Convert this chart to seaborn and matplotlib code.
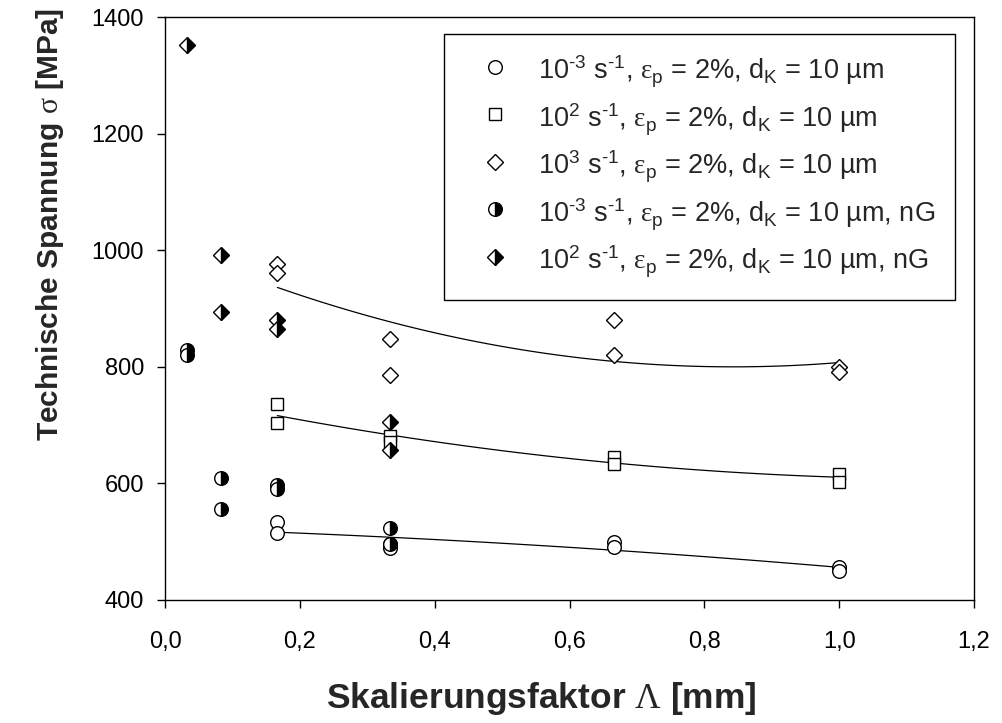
import matplotlib
matplotlib.use("Agg")
import matplotlib.pyplot as plt
import seaborn as sns
from matplotlib import font_manager
from matplotlib.ticker import FixedLocator, FuncFormatter

# Scaling factor Lambda [mm] and engineering stress at 2 % plastic strain [MPa]
lam_1e3 = [1/6, 1/6, 1/3, 1/3, 2/3, 2/3, 1.0, 1.0]
sig_1e3 = [534, 515, 496, 489, 500, 491, 456, 450]

lam_1e2 = [1/6, 1/6, 1/3, 1/3, 2/3, 2/3, 1.0, 1.0]
sig_1e2 = [736, 704, 682, 672, 645, 634, 616, 603]

lam_1e3f = [1/6, 1/6, 1/3, 1/3, 2/3, 2/3, 1.0, 1.0]
sig_1e3f = [976, 962, 848, 786, 880, 820, 800, 791]

lam_1e3_ng = [1/30, 1/30, 1/12, 1/12, 1/6, 1/6, 1/3, 1/3]
sig_1e3_ng = [830, 821, 609, 556, 598, 590, 524, 496]

lam_1e2_ng = [1/30, 1/12, 1/12, 1/6, 1/6, 1/3, 1/3]
sig_1e2_ng = [1352, 993, 895, 880, 866, 705, 658]

HY = "\u2010"
labels = [
    rf"$10^{{{HY}3}}$ s$^{{{HY}1}}$, $\mathcal{{\varepsilon}}_\mathrm{{p}}$ = 2%, d$_\mathrm{{K}}$ = 10 µm",
    rf"$10^{{2}}$ s$^{{{HY}1}}$, $\mathcal{{\varepsilon}}_\mathrm{{p}}$ = 2%, d$_\mathrm{{K}}$ = 10 µm",
    rf"$10^{{3}}$ s$^{{{HY}1}}$, $\mathcal{{\varepsilon}}_\mathrm{{p}}$ = 2%, d$_\mathrm{{K}}$ = 10 µm",
    rf"$10^{{{HY}3}}$ s$^{{{HY}1}}$, $\mathcal{{\varepsilon}}_\mathrm{{p}}$ = 2%, d$_\mathrm{{K}}$ = 10 µm, nG",
    rf"$10^{{2}}$ s$^{{{HY}1}}$, $\mathcal{{\varepsilon}}_\mathrm{{p}}$ = 2%, d$_\mathrm{{K}}$ = 10 µm, nG",
]
x_ticks = [0.0, 0.2, 0.4, 0.6, 0.8, 1.0, 1.2]
y_ticks = [400, 600, 800, 1000, 1200, 1400]

sns.set_theme(style="ticks")
plt.rcParams.update({
    "font.family": ["Liberation Sans", "DejaVu Sans"],
    "mathtext.fontset": "custom",
    "mathtext.rm": "Liberation Sans",
    "mathtext.it": "Liberation Sans",
    "mathtext.bf": "Liberation Sans:bold",
    "mathtext.sf": "Liberation Sans",
    "mathtext.cal": "Liberation Serif",
    "axes.edgecolor": "black",
    "axes.linewidth": 1.0,
    "xtick.color": "black",
    "ytick.color": "black",
})
installed = {f.name for f in font_manager.fontManager.ttflist}
narrow = "Liberation Sans Narrow" if "Liberation Sans Narrow" in installed else None
ylab_size = 25.5 if narrow else 21.5

fig = plt.figure(figsize=(10.03, 7.23), dpi=100)
ax = fig.add_axes([165 / 1003, 123 / 723, 809 / 1003, 582.5 / 723])

# quadratic trend lines through the standard-geometry series
for lx, sy in [(lam_1e3, sig_1e3), (lam_1e2, sig_1e2), (lam_1e3f, sig_1e3f)]:
    sns.regplot(x=lx, y=sy, order=2, ci=None, scatter=False, truncate=True,
                color="black", line_kws={"lw": 0.9}, ax=ax)

mk = dict(markeredgecolor="black", markeredgewidth=1.0, linestyle="none",
          estimator=None, sort=False, color="black", ax=ax)
series = [
    (lam_1e3, sig_1e3, dict(marker="o", markersize=9.8, markerfacecolor="white")),
    (lam_1e2, sig_1e2, dict(marker="s", markersize=8.8, markerfacecolor="white")),
    (lam_1e3f, sig_1e3f, dict(marker="D", markersize=8.6, markerfacecolor="white")),
    (lam_1e3_ng, sig_1e3_ng, dict(marker="o", markersize=9.8, fillstyle="right",
                                  markerfacecolor="black", markerfacecoloralt="white")),
    (lam_1e2_ng, sig_1e2_ng, dict(marker="D", markersize=8.6, fillstyle="right",
                                  markerfacecolor="black", markerfacecoloralt="white")),
]
handles = []
for lx, sy, style in series:
    sns.lineplot(x=lx, y=sy, **style, **mk)
    handles.append(ax.lines[-1])

ax.set_xlim(0, 1.2)
ax.set_ylim(400, 1400)
ax.xaxis.set_major_locator(FixedLocator(x_ticks))
ax.yaxis.set_major_locator(FixedLocator(y_ticks))
ax.xaxis.set_major_formatter(FuncFormatter(lambda v, p: f"{v:.1f}".replace(".", ",")))
ax.yaxis.set_major_formatter(FuncFormatter(lambda v, p: f"{v:.0f}"))
ax.tick_params(axis="both", direction="out", length=6, width=1.0, labelsize=17,
               top=False, right=False)
ax.tick_params(axis="x", pad=16)
ax.tick_params(axis="y", pad=9)
for s in ax.spines.values():
    s.set_visible(True)
    s.set_linewidth(1.0)

ax.set_xlabel(r"Skalierungsfaktor $\mathcal{\Lambda}$ [mm]", fontsize=25.5, fontweight="bold")
ax.xaxis.set_label_coords(0.465, -0.138)
ylab_family = [narrow, "Liberation Sans", "DejaVu Sans"] if narrow else ["Liberation Sans", "DejaVu Sans"]
ax.set_ylabel(r"Technische Spannung $\mathcal{\sigma}$ [MPa]", fontsize=ylab_size,
              fontweight="bold", family=ylab_family)
ax.yaxis.set_label_coords(-0.122, 0.644)

leg = ax.legend(handles, labels, loc="upper right", bbox_to_anchor=(0.9765, 0.9717),
                borderaxespad=0, fontsize=19.5, frameon=True, fancybox=False,
                edgecolor="black", framealpha=1, numpoints=1, handlelength=2.3,
                handleheight=1.5, handletextpad=0.42, borderpad=0.74, labelspacing=0.42)
leg.get_frame().set_linewidth(1.0)

fig.savefig("out.png", dpi=100)
